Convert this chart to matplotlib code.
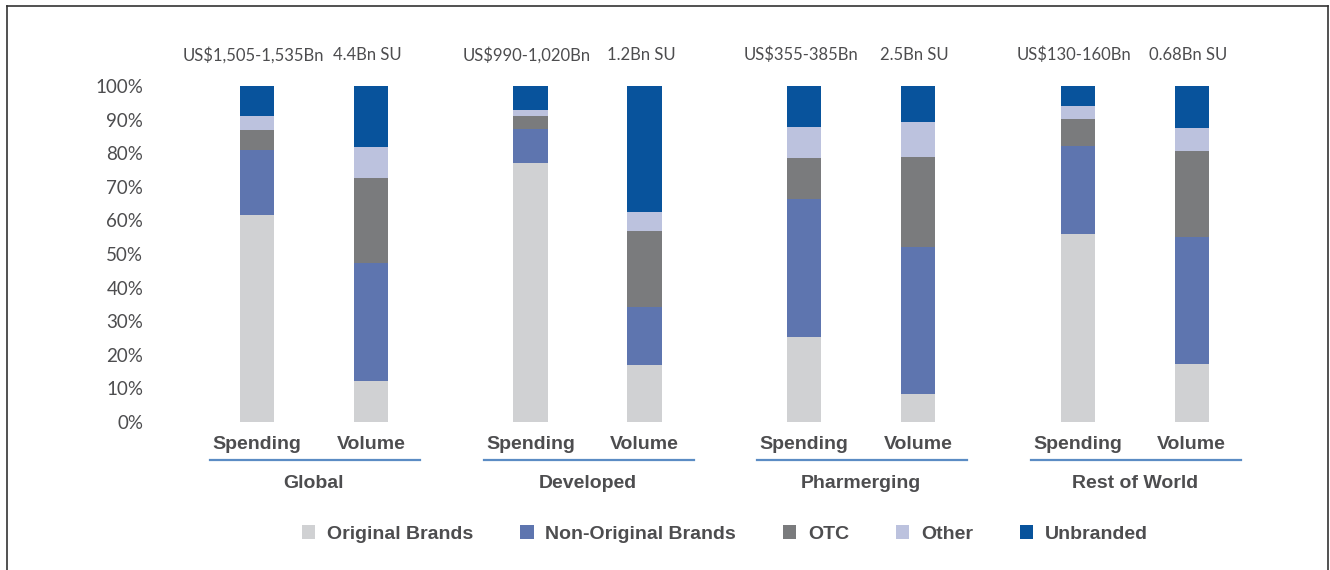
import numpy as np
import matplotlib
matplotlib.use("Agg")
import matplotlib.pyplot as plt
from matplotlib.lines import Line2D
from matplotlib.patches import Patch

plt.rcParams["font.family"] = ["Lato", "DejaVu Sans"]
BOLD = ["Liberation Sans", "DejaVu Sans"]

regions = ["Global", "Developed", "Pharmerging", "Rest of World"]
measures = ["Spending", "Volume"]
top_labels = ["US$1,505-1,535Bn", "4.4Bn SU", "US$990-1,020Bn", "1.2Bn SU",
              "US$355-385Bn", "2.5Bn SU", "US$130-160Bn", "0.68Bn SU"]
series = ["Original Brands", "Non-Original Brands", "OTC", "Other", "Unbranded"]
colors = ["#D0D1D3", "#5E75AF", "#7A7B7D", "#BCC2DE", "#08539C"]

# shares (%) per bar, order: Global S/V, Developed S/V, Pharmerging S/V, RoW S/V
original = [61.6, 12.2, 77.0, 17.0, 25.3, 8.3, 56.0, 17.3]
non_original = [19.4, 35.1, 10.2, 17.2, 41.1, 43.8, 26.1, 37.7]
otc = [6.0, 25.3, 3.8, 22.6, 12.2, 26.8, 8.1, 25.7]
other = [4.0, 9.2, 2.0, 5.7, 9.2, 10.4, 3.8, 6.8]
unbranded = [9.0, 18.2, 7.0, 37.5, 12.2, 10.7, 6.0, 12.5]

TXT = "#4D4D4F"
LINE = "#5B8CC4"

fig = plt.figure(figsize=(13.3, 5.7), dpi=100)
ax = fig.add_axes([160 / 1330, 1 - 422 / 570, 1140 / 1330, 336 / 570])

x = np.array([g * 2.4 + m for g in range(4) for m in range(2)], dtype=float)
data = [original, non_original, otc, other, unbranded]
bottom = np.zeros(len(x))
for vals, c, name in zip(data, colors, series):
    v = np.array(vals) / 100
    ax.bar(x, v, width=0.3, bottom=bottom, color=c, label=name, linewidth=0)
    bottom += v

ax.set_xlim(-0.85, 9.15)
ax.set_ylim(0, 1)
ax.set_yticks(np.arange(0, 1.01, 0.1))
ax.set_yticklabels([f"{int(round(t * 100))}%" for t in np.arange(0, 1.01, 0.1)],
                   fontsize=13.5, color=TXT)
ax.tick_params(axis="y", length=0, pad=12)
ax.set_xticks([])
for s in ax.spines.values():
    s.set_visible(False)

tr = ax.get_xaxis_transform()
for xi, lab in zip(x, top_labels):
    ax.text(xi - 0.03, 1.092, lab, transform=tr, ha="center", va="center",
            fontsize=12, color=TXT)
for g, reg in enumerate(regions):
    base = g * 2.4
    for m, meas in enumerate(measures):
        ax.text(base + m, -0.066, meas, transform=tr, ha="center", va="center",
                fontsize=14, fontweight="bold", family=BOLD, color=TXT)
    ax.plot([base - 0.41, base + 1.43], [-0.113, -0.113], transform=tr,
            color=LINE, lw=1.6, clip_on=False)
    ax.text(base + 0.5, -0.182, reg, transform=tr, ha="center", va="center",
            fontsize=14, fontweight="bold", family=BOLD, color=TXT)

handles = [Patch(facecolor=c, edgecolor="none") for c in colors]
leg = fig.legend(handles, series, loc="center", bbox_to_anchor=(0.545, 1 - 534 / 570),
                 ncol=5, frameon=False, handlelength=0.7, handleheight=0.7,
                 columnspacing=2.4, handletextpad=0.6,
                 prop={"size": 14, "weight": "bold", "family": BOLD})
for t in leg.get_texts():
    t.set_color(TXT)

# outer frame
fx0, fx1, fy = 7 / 1330, 1328 / 1330, 1 - 6 / 570
for xs, ys in [([fx0, fx1], [fy, fy]), ([fx0, fx0], [fy, 0]), ([fx1, fx1], [fy, 0])]:
    fig.add_artist(Line2D(xs, ys, transform=fig.transFigure, color="#333333", lw=1.2))

fig.savefig("out.png", dpi=100)
